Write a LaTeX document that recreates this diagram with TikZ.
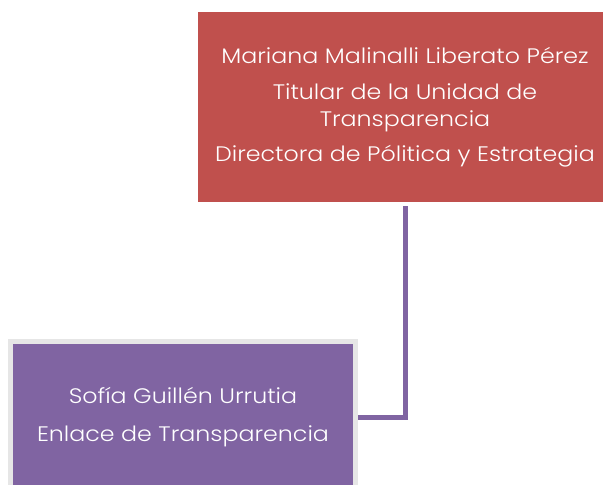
\documentclass[tikz,border=0pt]{standalone}
\usepackage{fontspec}
\setmainfont{Poppins}[UprightFont=* Light,FakeStretch=1.13]
\definecolor{redbox}{HTML}{C0504D}
\definecolor{purplebox}{HTML}{8064A2}
\definecolor{frame}{HTML}{E6E6E6}
\begin{document}
\begin{tikzpicture}[x=1pt,y=-1pt,
  boxtext/.style={text=white,font=\fontsize{21}{27}\selectfont,align=center,inner sep=0pt},
  topbox/.style={boxtext,fill=redbox,minimum width=414pt,minimum height=190pt},
  lowbox/.style={boxtext,fill=purplebox,draw=frame,line width=5pt,minimum width=345pt,minimum height=151pt},
  link/.style={draw=purplebox,line width=5pt}]
\useasboundingbox (0,0) rectangle (603,485);
\begin{scope}
\clip (0,0) rectangle (603,485);
\node[topbox] (top) at (405,107) {Mariana Malinalli Liberato Pérez\\[9pt]Titular de la Unidad de\\Transparencia\\[8pt]Directora de Pólitica y Estrategia};
\node[lowbox] (low) at (183,417) {Sofía Guillén Urrutia\\[11pt]Enlace de Transparencia};
\coordinate (c1) at (405.5,206);
\draw[link] (c1) |- (low.east);
\end{scope}
\end{tikzpicture}
\end{document}
